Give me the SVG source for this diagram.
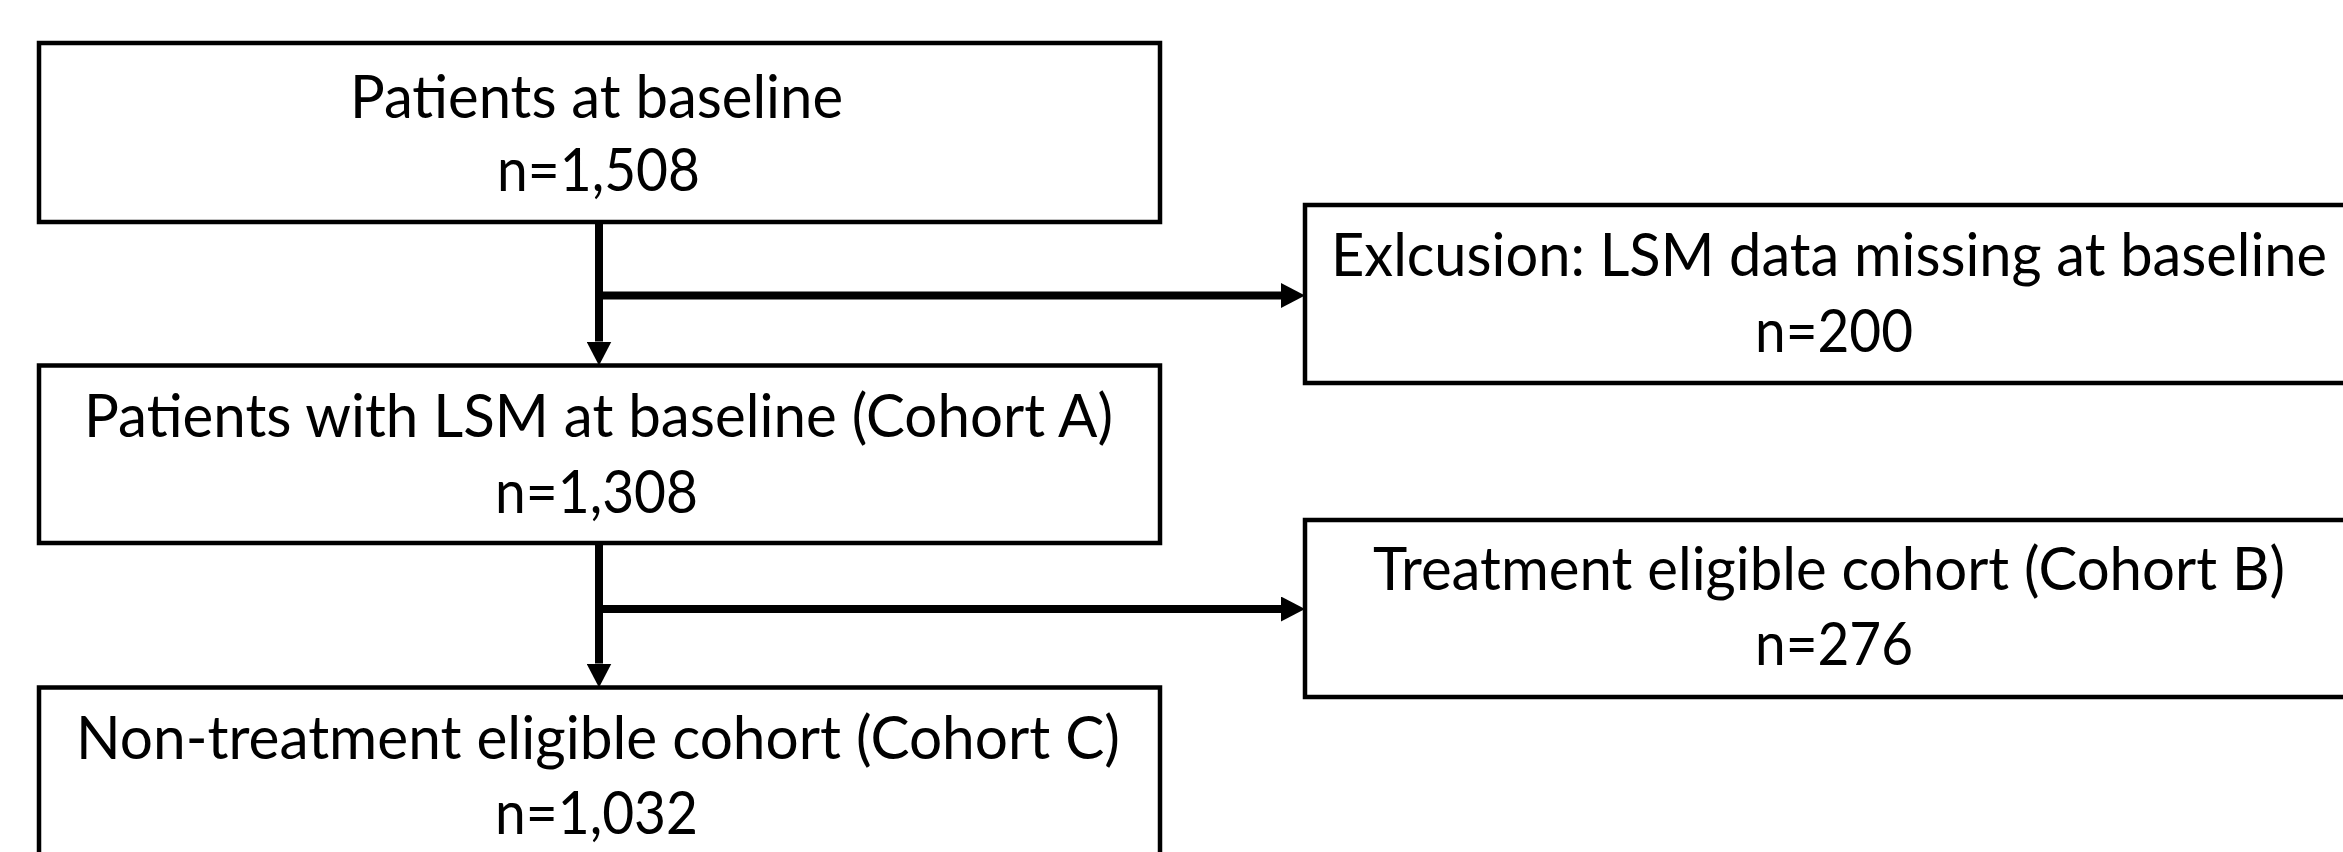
<svg xmlns="http://www.w3.org/2000/svg" width="2343" height="852" viewBox="0 0 2343 852">
  <style>
    .box { fill: #ffffff; stroke: #000000; stroke-width: 4.5; }
    .lbl { font-family: Lato, "Liberation Sans", sans-serif; font-size: 60px; fill: #000000; }
    .conn { fill: none; stroke: #000000; stroke-width: 8; }
  </style>
  <defs>
    <marker id="arrow" viewBox="0 0 24 25" refX="0" refY="12.5" markerWidth="24" markerHeight="25" markerUnits="userSpaceOnUse" orient="auto">
      <path d="M0,0 L24,12.5 L0,25 Z" fill="#000000"/>
    </marker>
  </defs>
  <rect width="2343" height="852" fill="#ffffff"/>

  <g id="connectors">
    <path class="conn" d="M599,222 L599,341.5" marker-end="url(#arrow)"/>
    <path class="conn" d="M599,295.5 L1281,295.5" marker-end="url(#arrow)"/>
    <path class="conn" d="M599,543 L599,663.5" marker-end="url(#arrow)"/>
    <path class="conn" d="M599,609 L1281,609" marker-end="url(#arrow)"/>
  </g>

  <g id="node-baseline">
    <rect class="box" x="39" y="43" width="1121" height="179"/>
    <text class="lbl" x="350" y="118" textLength="493" lengthAdjust="spacingAndGlyphs">Patients at baseline</text>
    <text class="lbl" x="497" y="191" textLength="203" lengthAdjust="spacingAndGlyphs">n=1,508</text>
  </g>

  <g id="node-cohort-a">
    <rect class="box" x="39" y="365.5" width="1121" height="177.5"/>
    <text class="lbl" x="84" y="437" textLength="1029" lengthAdjust="spacingAndGlyphs">Patients with LSM at baseline (Cohort A)</text>
    <text class="lbl" x="495" y="512.5" textLength="203" lengthAdjust="spacingAndGlyphs">n=1,308</text>
  </g>

  <g id="node-cohort-c">
    <rect class="box" x="39" y="687.5" width="1121" height="190"/>
    <text class="lbl" x="76" y="758.5" textLength="1044" lengthAdjust="spacingAndGlyphs">Non-treatment eligible cohort (Cohort C)</text>
    <text class="lbl" x="495" y="834" textLength="203" lengthAdjust="spacingAndGlyphs">n=1,032</text>
  </g>

  <g id="node-exclusion">
    <rect class="box" x="1305" y="205" width="1060" height="178"/>
    <text class="lbl" x="1331" y="276" textLength="996" lengthAdjust="spacingAndGlyphs">Exlcusion: LSM data missing at baseline</text>
    <text class="lbl" x="1755" y="351.5" textLength="158" lengthAdjust="spacingAndGlyphs">n=200</text>
  </g>

  <g id="node-cohort-b">
    <rect class="box" x="1305" y="520" width="1060" height="177"/>
    <text class="lbl" x="1373" y="590" textLength="912" lengthAdjust="spacingAndGlyphs">Treatment eligible cohort (Cohort B)</text>
    <text class="lbl" x="1755" y="665" textLength="158" lengthAdjust="spacingAndGlyphs">n=276</text>
  </g>
</svg>
